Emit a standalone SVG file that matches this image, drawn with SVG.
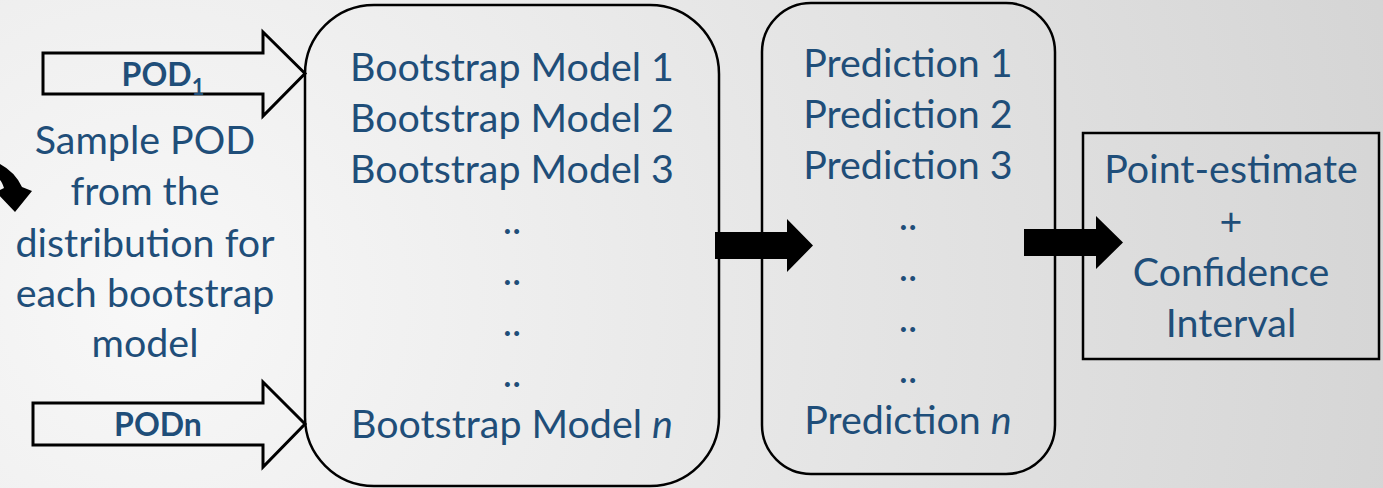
<svg xmlns="http://www.w3.org/2000/svg" width="1383" height="488" viewBox="0 0 1383 488">
<defs>
<radialGradient id="bg" cx="150" cy="300" r="1300" gradientUnits="userSpaceOnUse">
<stop offset="0" stop-color="#f8f8f8"/>
<stop offset="1" stop-color="#d4d4d4"/>
</radialGradient>
</defs>
<style>
.t{font-family:Lato,"Open Sans","Liberation Sans",sans-serif;font-size:39.4px;fill:#1f4e79;text-anchor:middle}
.b{font-family:Lato,"Open Sans","Liberation Sans",sans-serif;font-size:32px;font-weight:bold;fill:#1f4e79;text-anchor:middle}
.box{fill:none;stroke:#000;stroke-width:2.5}
.wa{fill:none;stroke:#000;stroke-width:3;stroke-linejoin:miter}
.ba{fill:#000;stroke:none}
</style>
<rect x="0" y="0" width="1383" height="488" fill="url(#bg)"/>
<g id="connectors">
<path class="wa" d="M43,53 H263 V32 L305,73.5 L263,116 V94 H43 Z"/>
<path class="wa" d="M33,403 H263 V382 L305,424 L263,467 V445 H33 Z"/>
<path class="ba" d="M715,232 H787 V219 L813,245.5 L787,272 V259 H715 Z"/>
<path class="ba" d="M1024,229 H1096 V216 L1123,242.5 L1096,269 V256 H1024 Z"/>
<path class="ba" d="M0,164 Q15,172 22,187 L32,191 L15,212 L-4,192 L4,188 Q2,182 0,180 Z"/>
</g>
<g id="pod1">
<text class="b" x="163" y="86">POD<tspan font-size="22" dy="9">1</tspan></text>
</g>
<g id="podn">
<text class="b" x="158" y="436">PODn</text>
</g>
<g id="sample">
<text class="t" x="145" y="154">Sample POD</text>
<text class="t" x="145" y="205">from the</text>
<text class="t" x="145" y="257">distribution for</text>
<text class="t" x="145" y="307">each bootstrap</text>
<text class="t" x="145" y="357">model</text>
</g>
<g id="bootstrap">
<rect class="box" x="305" y="5" width="414" height="481" rx="69" ry="69"/>
<text class="t" x="512" y="81">Bootstrap Model 1</text>
<text class="t" x="512" y="132">Bootstrap Model 2</text>
<text class="t" x="512" y="183">Bootstrap Model 3</text>
<text class="t" x="512" y="234">..</text>
<text class="t" x="512" y="285">..</text>
<text class="t" x="512" y="336">..</text>
<text class="t" x="512" y="387">..</text>
<text class="t" x="512" y="438">Bootstrap Model <tspan font-style="italic">n</tspan></text>
</g>
<g id="prediction">
<rect class="box" x="762" y="3" width="293" height="471" rx="49" ry="49"/>
<text class="t" x="908" y="77">Prediction 1</text>
<text class="t" x="908" y="128">Prediction 2</text>
<text class="t" x="908" y="179">Prediction 3</text>
<text class="t" x="908" y="230">..</text>
<text class="t" x="908" y="281">..</text>
<text class="t" x="908" y="332">..</text>
<text class="t" x="908" y="383">..</text>
<text class="t" x="908" y="434">Prediction <tspan font-style="italic">n</tspan></text>
</g>
<g id="result">
<rect class="box" x="1083" y="133" width="296" height="226"/>
<text class="t" x="1231" y="183">Point-estimate</text>
<text class="t" x="1231" y="235">+</text>
<text class="t" x="1231" y="286">Confidence</text>
<text class="t" x="1231" y="337">Interval</text>
</g>
</svg>
